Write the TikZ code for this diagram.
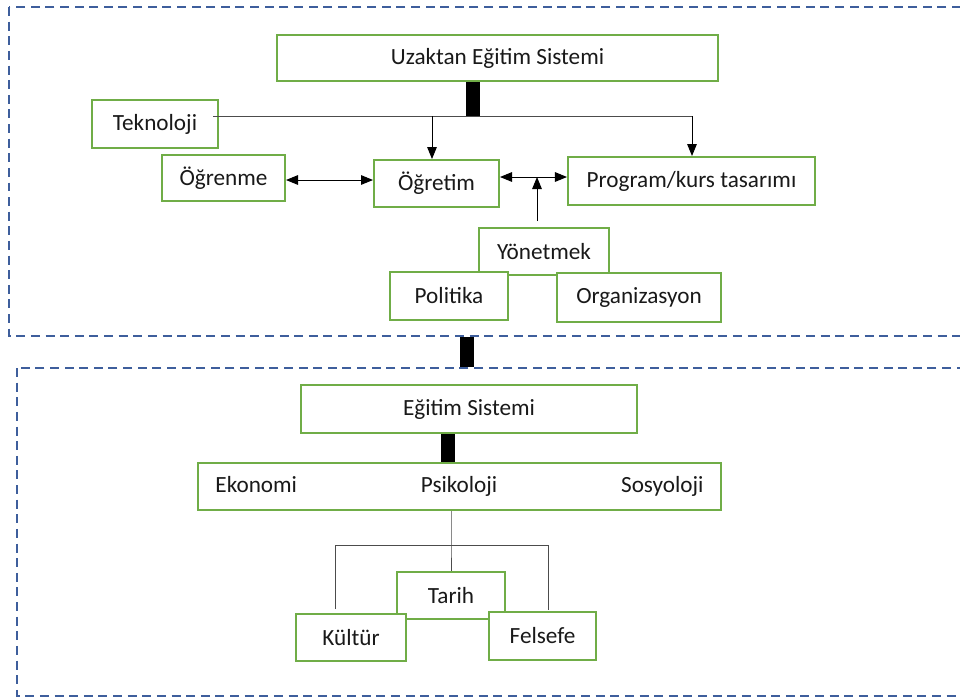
\documentclass[tikz,border=0pt]{standalone}
\usepackage{fontspec}
\setmainfont{Carlito}
\usepackage{xcolor}
\usepackage{tikz}
\usetikzlibrary{arrows.meta}

\definecolor{kutuyesil}{RGB}{112,173,71}
\definecolor{cizgimavi}{RGB}{62,94,156}

\tikzset{
    kutu/.style={draw=kutuyesil, line width=1.4pt, fill=white, rectangle, inner sep=2pt, text=black!90, font=\fontsize{16.5}{19}\selectfont},
    sistem/.style={draw=cizgimavi, line width=1.4pt, dash pattern=on 6.4pt off 4pt},
    govde/.style={line width=0.35cm, black},
    ince/.style={line width=0.7pt, black!70},
    ok/.style={line width=0.7pt, -{Triangle[length=0.3cm, width=0.24cm]}},
    ciftok/.style={line width=0.7pt, {Triangle[length=0.3cm, width=0.24cm]}-{Triangle[length=0.3cm, width=0.24cm]}}
}

\begin{document}
\begin{tikzpicture}[x=0.025cm, y=-0.025cm]
    \useasboundingbox (0, 0) rectangle (960, 699);
    \begin{scope}
    \clip (0, 0) rectangle (960, 699);
    \draw[sistem] (9, 7) rectangle (975, 336);
    \draw[sistem] (17, 368) rectangle (975, 696);
    \end{scope}

    % uzaktan egitim
    \node[kutu, minimum width=11.025cm, minimum height=1.15cm] at (497.5, 58) (uzaktan) {Uzaktan Eğitim Sistemi};
    \coordinate (kol) at (473, 116);
    \coordinate (kolsol) at (432, 116);
    \coordinate (kolsag) at (692, 116);
    \draw[govde] (uzaktan.south -| kol) -- (kol);

    \node[kutu, minimum width=3.15cm, minimum height=1.2cm] at (155, 124) (teknoloji) {Teknoloji\hspace{0.25cm}};
    \node[kutu, minimum width=3.075cm, minimum height=1.15cm] at (223.5, 178) (ogrenme) {Öğrenme};
    \node[kutu, minimum width=3.125cm, minimum height=1.175cm] at (436.5, 183.5) (ogretim) {Öğretim\hspace{0.4cm}};
    \node[kutu, minimum width=6.175cm, minimum height=1.2cm] at (691.5, 181) (program) {Program/kurs tasarımı};

    \draw[ince] ([xshift=-0.15cm]teknoloji.east |- kol) -- (kolsag);
    \draw[ok] (kolsol) -- (kolsol |- ogretim.north);
    \draw[ok] (kolsag) -- (program.north -| kolsag);
    \draw[ciftok] (ogrenme.east |- 0, 180) -- (ogretim.west |- 0, 180);
    \draw[ciftok] (ogretim.east |- 0, 177) -- (program.west |- 0, 177);

    \node[kutu, minimum width=3.25cm, minimum height=1.175cm] at (544, 251.5) (yonetmek) {Yönetmek};
    \node[kutu, minimum width=2.95cm, minimum height=1.2cm] at (449, 296) (politika) {Politika};
    \node[kutu, minimum width=4.1cm, minimum height=1.225cm] at (639, 297.5) (organizasyon) {Organizasyon};
    \coordinate (yonucu) at (537, 221);
    \draw[ok] (yonucu) -- (537, 177);

    % iki sistem arasi
    \coordinate (ustalt) at (467, 337);
    \coordinate (altust) at (467, 367);
    \draw[govde] (ustalt) -- (altust);

    % egitim sistemi
    \node[kutu, minimum width=8.4cm, minimum height=1.2cm] at (469, 409) (egitim) {Eğitim Sistemi};
    \node[kutu, minimum width=13.075cm, minimum height=1.175cm, text width=12.2cm] at (459.5, 486.5) (alanlar) {Ekonomi\hfill Psikoloji\hfill Sosyoloji};
    \draw[govde] (egitim.south -| 448, 0) -- (alanlar.north -| 448, 0);

    \node[kutu, minimum width=2.7cm, minimum height=1.175cm] at (451, 595.5) (tarih) {Tarih};
    \node[kutu, minimum width=2.75cm, minimum height=1.175cm] at (351, 637.5) (kultur) {Kültür};
    \node[kutu, minimum width=2.675cm, minimum height=1.2cm] at (542.5, 636) (felsefe) {Felsefe};

    \coordinate (dal) at (451, 545);
    \coordinate (dalsol) at (335, 545);
    \coordinate (dalsag) at (548, 545);
    \draw[ince] (alanlar.south -| dal) -- (dal) -- (tarih.north -| dal);
    \draw[ince] (335, 609) -- (dalsol) -- (dalsag) -- (548, 610);
\end{tikzpicture}
\end{document}
